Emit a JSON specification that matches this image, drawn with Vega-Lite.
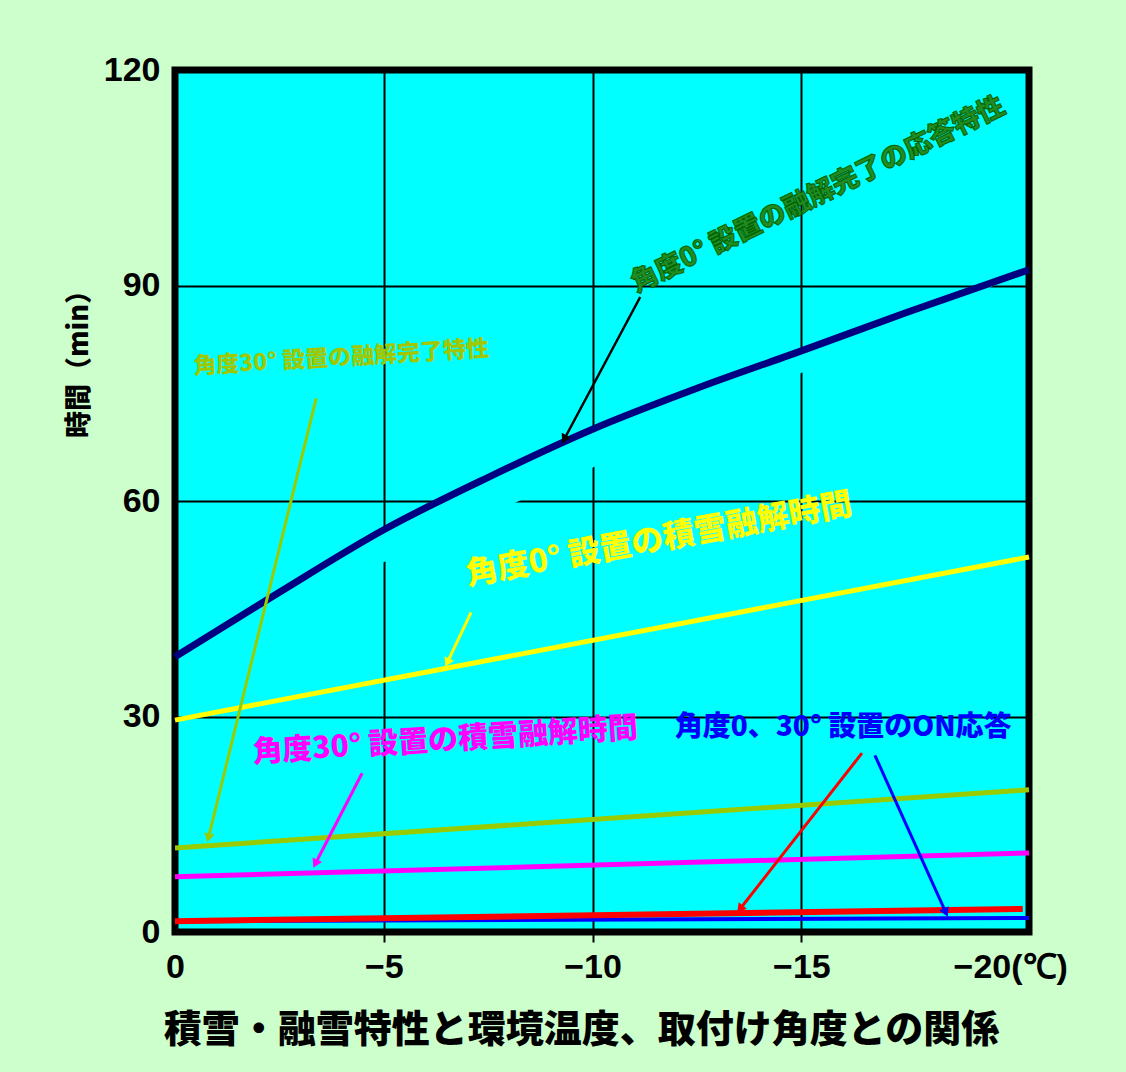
{
  "$schema": "https://vega.github.io/schema/vega-lite/v6.json",
  "width": 854,
  "height": 862,
  "autosize": {"type": "none"},
  "padding": {"left": 175, "top": 70, "right": 97, "bottom": 140},
  "background": "#CCFFCC",
  "config": {"view": {"fill": "#00FFFF", "stroke": "#000000", "strokeWidth": 7}},
  "datasets": {
    "lines": [
      {"s": "navy", "x": 0, "y": 38.3},
      {"s": "navy", "x": -2.5, "y": 47.3},
      {"s": "navy", "x": -5, "y": 56.0},
      {"s": "navy", "x": -7.5, "y": 63.3},
      {"s": "navy", "x": -10, "y": 70.0},
      {"s": "navy", "x": -12.5, "y": 75.7},
      {"s": "navy", "x": -15, "y": 80.9},
      {"s": "navy", "x": -17.5, "y": 86.2},
      {"s": "navy", "x": -20.45, "y": 92.2},
      {"s": "yellow", "x": 0, "y": 29.5},
      {"s": "yellow", "x": -20.45, "y": 52.2},
      {"s": "olive", "x": 0, "y": 11.7},
      {"s": "olive", "x": -20.45, "y": 19.8},
      {"s": "magenta", "x": 0, "y": 7.7},
      {"s": "magenta", "x": -20.45, "y": 11.0},
      {"s": "blue", "x": 0, "y": 1.5},
      {"s": "blue", "x": -20.45, "y": 1.95},
      {"s": "red", "x": 0, "y": 1.5},
      {"s": "red", "x": -20.3, "y": 3.2}
    ]
  },
  "encoding": {
    "x": {
      "field": "x",
      "type": "quantitative",
      "scale": {"domain": [0, -20.45], "nice": false, "zero": false},
      "axis": {
        "values": [0, -5, -10, -15, -20],
        "title": "積雪・融雪特性と環境温度、取付け角度との関係",
        "titleFont": "Noto Sans CJK JP",
        "titleFontWeight": 900,
        "titleFontSize": 38,
        "titleColor": "#000000",
        "titleX": 406,
        "titleY": 98,
        "titleAlign": "center",
        "titleBaseline": "middle",
        "labelFont": "Liberation Sans",
        "labelFontWeight": "bold",
        "labelFontSize": 34,
        "labelColor": "#000000",
        "labelPadding": 8,
        "labelFlush": false,
        "labelOverlap": false,
        "labelExpr": "datum.value == 0 ? '0' : (datum.value == -20 ? '−20(℃)' : '−' + abs(datum.value))",
        "domain": false,
        "ticks": true,
        "tickSize": 10,
        "tickWidth": 2,
        "tickColor": {"condition": {"test": "datum.value == 0 || datum.value == -20", "value": "transparent"}, "value": "#000000"},
        "grid": true,
        "gridWidth": 2,
        "gridOpacity": 1,
        "gridColor": {"condition": {"test": "datum.value == 0 || datum.value == -20", "value": "transparent"}, "value": "#000000"}
      }
    },
    "y": {
      "field": "y",
      "type": "quantitative",
      "scale": {"domain": [0, 120], "nice": false},
      "axis": {
        "values": [0, 30, 60, 90, 120],
        "title": "時間（min）",
        "titleFont": "Noto Sans CJK JP",
        "titleFontWeight": 900,
        "titleFontSize": 27,
        "titleColor": "#000000",
        "titleX": -96,
        "titleY": 287,
        "titleAngle": 270,
        "titleAlign": "center",
        "titleBaseline": "middle",
        "labelFont": "Liberation Sans",
        "labelFontWeight": "bold",
        "labelFontSize": 34,
        "labelColor": "#000000",
        "labelPadding": 15,
        "labelFlush": false,
        "domain": false,
        "ticks": false,
        "grid": true,
        "gridWidth": 2,
        "gridOpacity": 1,
        "gridColor": {"condition": {"test": "datum.value == 0 || datum.value == 120", "value": "transparent"}, "value": "#000000"}
      }
    }
  },
  "layer": [
    {
      "data": {"name": "lines"},
      "transform": [{"filter": "datum.s == 'navy'"}],
      "mark": {"type": "line", "stroke": "#000080", "strokeWidth": 7, "fill": "#00FFFF", "interpolate": "monotone"}
    },
    {
      "data": {"name": "lines"},
      "transform": [{"filter": "datum.s == 'yellow'"}],
      "mark": {"type": "line", "color": "#FFFF00", "strokeWidth": 5}
    },
    {
      "data": {"name": "lines"},
      "transform": [{"filter": "datum.s == 'olive'"}],
      "mark": {"type": "line", "color": "#99CC00", "strokeWidth": 5}
    },
    {
      "data": {"name": "lines"},
      "transform": [{"filter": "datum.s == 'magenta'"}],
      "mark": {"type": "line", "color": "#FF00FF", "strokeWidth": 5}
    },
    {
      "data": {"name": "lines"},
      "transform": [{"filter": "datum.s == 'blue'"}],
      "mark": {"type": "line", "color": "#0000FF", "strokeWidth": 4}
    },
    {
      "data": {"name": "lines"},
      "transform": [{"filter": "datum.s == 'red'"}],
      "mark": {"type": "line", "color": "#FF0000", "strokeWidth": 6}
    },
    {
      "data": {"values": [{"x": -15.4, "y": 102.6, "label": "角度0° 設置の融解完了の応答特性"}]},
      "mark": {"type": "text", "font": "Noto Sans CJK JP", "fontWeight": 900, "fontSize": 27, "fill": "#228B22", "stroke": "#006400", "strokeWidth": 1, "align": "center", "baseline": "middle", "angle": -26},
      "encoding": {"text": {"field": "label"}}
    },
    {
      "data": {"values": [{"x": -3.98, "y": 79.9, "label": "角度30° 設置の融解完了特性"}]},
      "mark": {"type": "text", "font": "Noto Sans CJK JP", "fontWeight": 900, "fontSize": 23, "fill": "#A0C800", "align": "center", "baseline": "middle", "angle": -3.5},
      "encoding": {"text": {"field": "label"}}
    },
    {
      "data": {"values": [{"x": -11.59, "y": 54.6, "label": "角度0° 設置の積雪融解時間"}]},
      "mark": {"type": "text", "font": "Noto Sans CJK JP", "fontWeight": 900, "fontSize": 32, "fill": "#FFFF00", "align": "center", "baseline": "middle", "angle": -10.5},
      "encoding": {"text": {"field": "label"}}
    },
    {
      "data": {"values": [{"x": -6.47, "y": 26.6, "label": "角度30° 設置の積雪融解時間"}]},
      "mark": {"type": "text", "font": "Noto Sans CJK JP", "fontWeight": 900, "fontSize": 30, "fill": "#FF00FF", "align": "center", "baseline": "middle", "angle": -3.7},
      "encoding": {"text": {"field": "label"}}
    },
    {
      "data": {"values": [{"x": -16.0, "y": 28.4, "label": "角度0、30° 設置のON応答"}]},
      "mark": {"type": "text", "font": "Noto Sans CJK JP", "fontWeight": 900, "fontSize": 28, "fill": "#0000FF", "align": "center", "baseline": "middle", "angle": 0},
      "encoding": {"text": {"field": "label"}}
    },
    {
      "data": {"values": [{"x": -11.14, "y": 88.4, "x2": -9.32, "y2": 68.6}]},
      "mark": {"type": "rule", "color": "#000000", "strokeWidth": 2.5},
      "encoding": {"x2": {"field": "x2"}, "y2": {"field": "y2"}}
    },
    {
      "data": {"values": [{"x": -9.32, "y": 68.6}]},
      "mark": {"type": "point", "shape": "triangle-up", "filled": true, "color": "#000000", "opacity": 1, "size": 110, "angle": 208}
    },
    {
      "data": {"values": [{"x": -3.38, "y": 74.3, "x2": -0.8, "y2": 13.1}]},
      "mark": {"type": "rule", "color": "#99CC00", "strokeWidth": 3},
      "encoding": {"x2": {"field": "x2"}, "y2": {"field": "y2"}}
    },
    {
      "data": {"values": [{"x": -0.8, "y": 13.1}]},
      "mark": {"type": "point", "shape": "triangle-up", "filled": true, "color": "#99CC00", "opacity": 1, "size": 110, "angle": 194}
    },
    {
      "data": {"values": [{"x": -7.09, "y": 44.5, "x2": -6.52, "y2": 37.5}]},
      "mark": {"type": "rule", "color": "#FFFF00", "strokeWidth": 3},
      "encoding": {"x2": {"field": "x2"}, "y2": {"field": "y2"}}
    },
    {
      "data": {"values": [{"x": -6.52, "y": 37.5}]},
      "mark": {"type": "point", "shape": "triangle-up", "filled": true, "color": "#FFFF00", "opacity": 1, "size": 110, "angle": 206}
    },
    {
      "data": {"values": [{"x": -4.48, "y": 22.1, "x2": -3.36, "y2": 9.5}]},
      "mark": {"type": "rule", "color": "#FF00FF", "strokeWidth": 3},
      "encoding": {"x2": {"field": "x2"}, "y2": {"field": "y2"}}
    },
    {
      "data": {"values": [{"x": -3.36, "y": 9.5}]},
      "mark": {"type": "point", "shape": "triangle-up", "filled": true, "color": "#FF00FF", "opacity": 1, "size": 110, "angle": 206}
    },
    {
      "data": {"values": [{"x": -16.45, "y": 24.9, "x2": -13.53, "y2": 3.2}]},
      "mark": {"type": "rule", "color": "#FF0000", "strokeWidth": 3},
      "encoding": {"x2": {"field": "x2"}, "y2": {"field": "y2"}}
    },
    {
      "data": {"values": [{"x": -13.53, "y": 3.2}]},
      "mark": {"type": "point", "shape": "triangle-up", "filled": true, "color": "#FF0000", "opacity": 1, "size": 110, "angle": 218}
    },
    {
      "data": {"values": [{"x": -16.76, "y": 24.6, "x2": -18.46, "y2": 2.7}]},
      "mark": {"type": "rule", "color": "#0000FF", "strokeWidth": 3},
      "encoding": {"x2": {"field": "x2"}, "y2": {"field": "y2"}}
    },
    {
      "data": {"values": [{"x": -18.46, "y": 2.7}]},
      "mark": {"type": "point", "shape": "triangle-up", "filled": true, "color": "#0000FF", "opacity": 1, "size": 110, "angle": 156}
    }
  ]
}
